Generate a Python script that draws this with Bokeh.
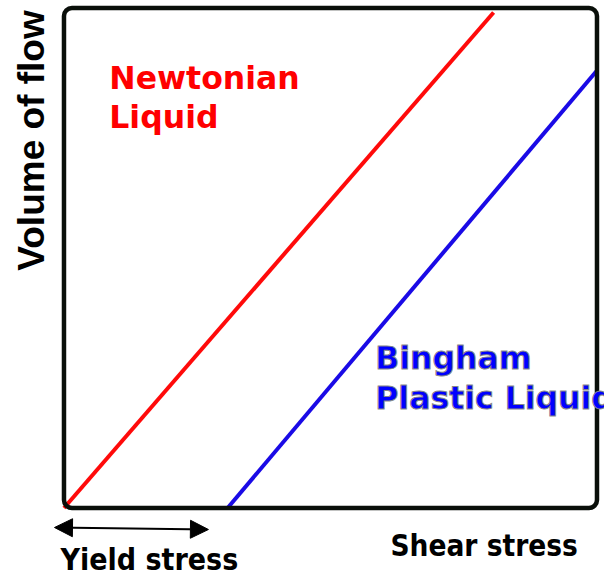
from bokeh.plotting import figure
from bokeh.models import BoxAnnotation, Label, Arrow, NormalHead, Range1d
from bokeh.embed import file_html
from bokeh.resources import INLINE
import math

# Data (arbitrary units: shear stress on x, volume of flow on y)
newtonian_x = [0.0, 8.06]
newtonian_y = [0.0, 9.91]
bingham_x = [3.07, 10.0]
bingham_y = [0.0, 8.75]

p = figure(width=604, height=588, output_backend="svg", toolbar_location=None,
           x_range=Range1d(-1.191, 10.141), y_range=Range1d(-1.61, 10.15),
           x_axis_location=None, y_axis_location=None, min_border=0)
p.outline_line_color = None
p.grid.visible = False
p.background_fill_color = "white"
p.border_fill_color = "white"

p.line(newtonian_x, newtonian_y, line_color="#ff0a0a", line_width=4)
p.line(bingham_x, bingham_y, line_color="#1a0ae6", line_width=4)

box = BoxAnnotation(left=0, right=10, bottom=0, top=10, fill_color=None, fill_alpha=0,
                    line_color="#0a0f0a", line_alpha=1.0, line_width=4.5, border_radius=8)
p.add_layout(box)

font = "DejaVu Sans"
for txt, yy in [("Newtonian", 8.60), ("Liquid", 7.83)]:
    p.add_layout(Label(x=0.85, y=yy, text=txt, text_font=font, text_font_style="bold",
                       text_font_size="31.5px", text_color="#ff0000",
                       text_baseline="alphabetic", text_align="left"))
for txt, yy in [("Bingham", 3.00), ("Plastic Liquid", 2.20)]:
    p.add_layout(Label(x=5.84, y=yy, text=txt, text_font=font, text_font_style="bold",
                       text_font_size="31.5px", text_color="#0000ff",
                       text_outline_color="#888888",
                       text_baseline="alphabetic", text_align="left"))

p.add_layout(Label(x=6.125, y=-0.75, text="Shear stress", text_font="DejaVu Sans Condensed",
                   text_font_style="bold", text_font_size="29.5px", text_color="black",
                   text_baseline="alphabetic"))
p.add_layout(Label(x=-0.066, y=-1.03, text="Yield stress", text_font="DejaVu Sans Condensed",
                   text_font_style="bold", text_font_size="30px", text_color="black",
                   text_baseline="alphabetic"))
p.add_layout(Label(x=-0.61, y=7.35, text="Volume of flow", text_font="Liberation Sans",
                   text_font_style="bold", text_font_size="37px", text_color="black",
                   angle=math.pi / 2, text_align="center", text_baseline="alphabetic"))

p.add_layout(Arrow(x_start=-0.178, y_start=-0.39, x_end=2.71, y_end=-0.43,
                   line_width=2, line_color="black",
                   start=NormalHead(size=18, fill_color="black", line_color="black"),
                   end=NormalHead(size=18, fill_color="black", line_color="black")))

open("out.html", "w").write(file_html(p, INLINE))
